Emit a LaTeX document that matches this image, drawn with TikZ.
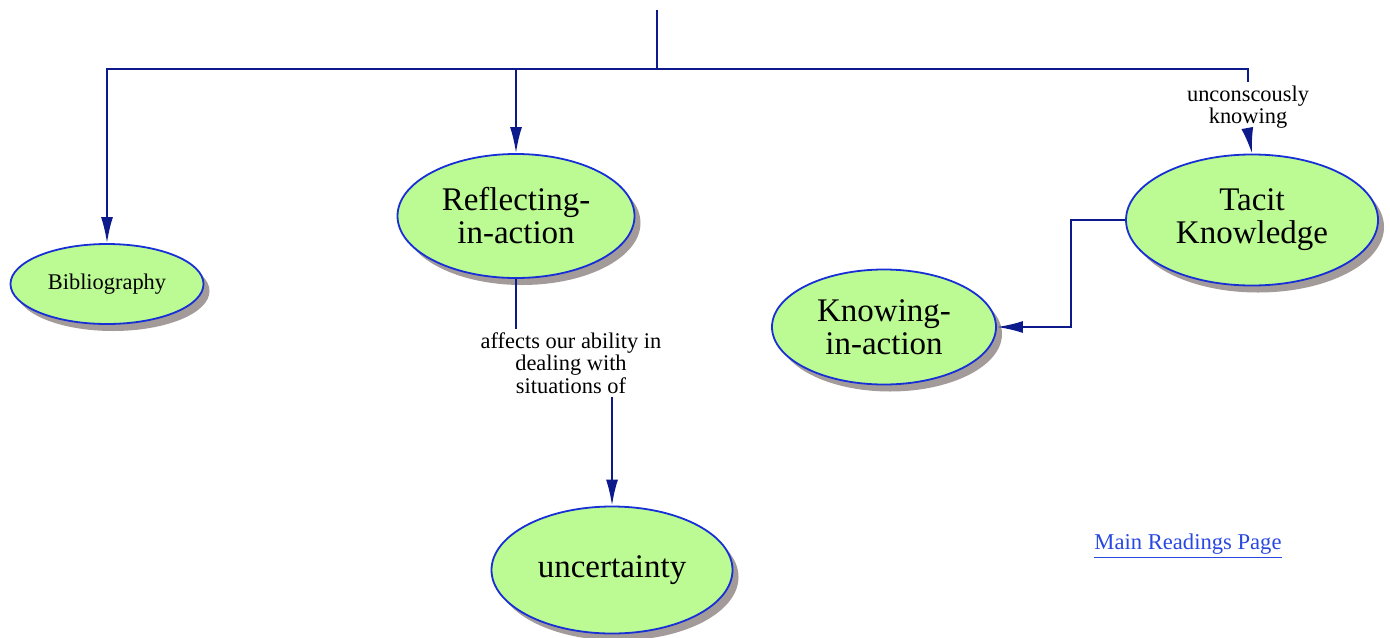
\documentclass[tikz,border=0pt]{standalone}
\usepackage{fontspec}
\setmainfont{Liberation Serif}
\usetikzlibrary{shapes.geometric,shadows,arrows.meta}
\definecolor{conceptfill}{RGB}{188,250,148}
\definecolor{conceptedge}{RGB}{22,48,214}
\definecolor{conceptshadow}{RGB}{163,154,154}
\definecolor{linkblue}{RGB}{12,26,140}
\definecolor{webblue}{RGB}{40,72,224}
\begin{document}
\begin{tikzpicture}[
            x=0.5pt, y=-0.5pt,
            concept/.style={ellipse, draw=conceptedge, fill=conceptfill, line width=0.9pt, inner sep=0pt, align=center,
                drop shadow={shadow xshift=3pt, shadow yshift=-3.5pt, fill=conceptshadow, opacity=1},
                font=\fontsize{16.5}{16.5}\selectfont},
            linklabel/.style={align=center, inner sep=1.5pt, font=\fontsize{11.2}{11.25}\selectfont},
            link/.style={draw=linkblue, line width=1pt},
            arrowed/.style={-{Latex[length=13pt, width=6pt]}}
        ]
        \useasboundingbox (0,0) rectangle (1390,637);

        % Concepts
        \node[concept, minimum width=96.5pt, minimum height=40pt, font=\fontsize{11.2}{12}\selectfont] (bib) at (107,284) {Bibliography};
        \node[concept, minimum width=118.5pt, minimum height=62pt] (refl) at (516,216) {Reflecting-\\in-action};
        \node[concept, minimum width=126pt, minimum height=65.5pt] (tacit) at (1252,220) {Tacit\\Knowledge};
        \node[concept, minimum width=112pt, minimum height=57.5pt] (know) at (884,327) {Knowing-\\in-action};
        \node[concept, minimum width=120.5pt, minimum height=63.5pt] (unc) at (612,570) {uncertainty};

        % Link labels
        \node[linklabel] (unconsc) at (1248,107) {unconscously\\knowing};
        \node[linklabel] (affects) at (571,363) {affects our ability in\\dealing with\\situations of};

        % Web link
        \node[font=\fontsize{11.3}{12}\selectfont, text=webblue] (mainpage) at (1188,546) {\underline{Main Readings Page}};

        % Connectors
        \coordinate (top) at (657,10);
        \coordinate (hub) at (657,69);
        \draw[link] (top) -- (hub);
        \draw[link, arrowed] (hub) -| (bib.north);
        \draw[link, arrowed] (hub) -| (refl.north);
        \draw[link] (hub) -| (unconsc.north);
        \draw[link, arrowed] (unconsc.south) -- (tacit.north);
        \draw[link] (refl.south) -- (refl.south |- affects.north);
        \draw[link, arrowed] (unc.north |- affects.south) -- (unc.north);
        \draw[link, arrowed] (tacit.west) -- ++(-54,0) |- (know.east);

    \end{tikzpicture}
\end{document}
